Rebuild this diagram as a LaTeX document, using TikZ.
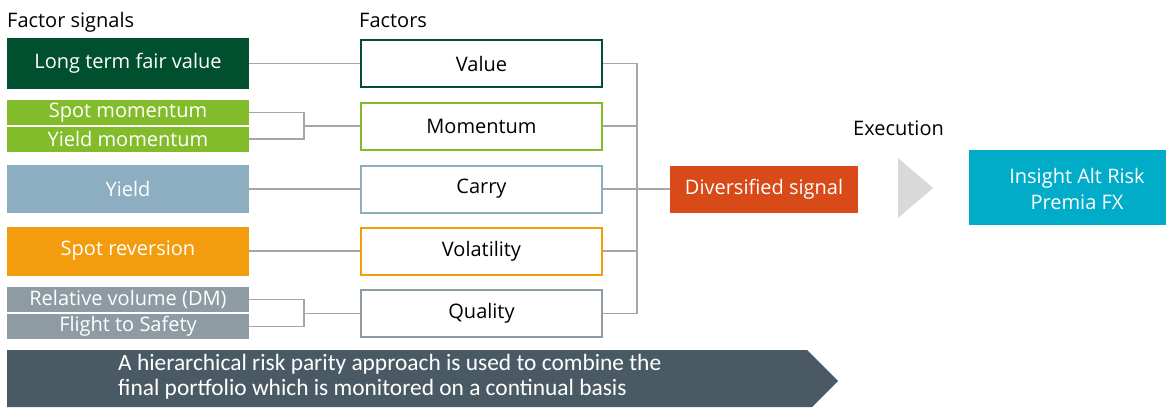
\documentclass[tikz,border=0pt]{standalone}
\usepackage{fontspec}
\setmainfont{Open Sans}
\newfontfamily\bannerfont{Carlito}
\usetikzlibrary{positioning}
\definecolor{dkgreen}{HTML}{005030}
\definecolor{ltgreen}{HTML}{82BC2A}
\definecolor{steel}{HTML}{8DAEC1}
\definecolor{amber}{HTML}{F39C0D}
\definecolor{slate}{HTML}{8E9BA2}
\definecolor{rust}{HTML}{D84A18}
\definecolor{teal}{HTML}{00ACC8}
\definecolor{banner}{HTML}{4A5A65}
\definecolor{wire}{HTML}{A6A6A6}
\definecolor{chevron}{HTML}{D9D9D9}
\tikzset{
  body/.style={font=\fontsize{20}{24}\selectfont},
  sigbox/.style={rectangle, inner sep=0pt, text=white, body, minimum width=242pt},
  facbox/.style={rectangle, draw, line width=2pt, fill=white, inner sep=0pt, minimum width=241pt, minimum height=47pt, text=black, body},
  heading/.style={anchor=base west, inner sep=0pt, body},
  link/.style={draw=wire, line width=1.3pt},
}
\begin{document}
\begin{tikzpicture}[x=1pt, y=-1pt]
\useasboundingbox (0,0) rectangle (1166,407);

% headings
\node[heading] (hsig) at (7,27) {Factor signals};
\node[heading] (hfac) at (359,27) {Factors};
\node[heading] (hexe) at (853,135) {Execution};

% factor signals
\node[sigbox, fill=dkgreen, minimum height=51pt] (ltfv) at (128,63.5) {Long term fair value};
\node[sigbox, fill=ltgreen, minimum height=25pt] (spm) at (128,112.5) {Spot momentum};
\node[sigbox, fill=ltgreen, minimum height=25pt] (ylm) at (128,139) {Yield momentum};
\node[sigbox, fill=steel, minimum height=48pt] (yld) at (128,189) {Yield};
\node[sigbox, fill=amber, minimum height=49pt] (spr) at (128,251) {Spot reversion};
\node[sigbox, fill=slate, minimum height=25pt] (rvol) at (128,299.5) {Relative volume (DM)};
\node[sigbox, fill=slate, minimum height=25pt] (fts) at (128,326.5) {Flight to Safety};

% factors
\node[facbox, draw=dkgreen] (val) at (481.5,63.5) {Value};
\node[facbox, draw=ltgreen] (mom) at (481.5,126) {Momentum};
\node[facbox, draw=steel] (car) at (481.5,189) {Carry};
\node[facbox, draw=amber] (vol) at (481.5,251) {Volatility};
\node[facbox, draw=slate] (qual) at (481.5,313.5) {Quality};

% aggregated signal and product
\node[rectangle, fill=rust, inner sep=0pt, minimum width=188pt, minimum height=47pt,
      text=white, body] (div) at (764,189) {Diversified signal};
\node[rectangle, fill=teal, inner sep=0pt, minimum width=197pt, minimum height=75pt] (alt) at (1067.5,187.5) {};
\node[text=white, align=center, inner sep=0pt, font=\fontsize{20}{26}\selectfont] (altlabel) at (1077,189) {Insight Alt Risk\\Premia FX};
\fill[chevron] (898,158) -- (933,188) -- (898,218) -- cycle;

% signal to factor links
\draw[link] (ltfv.east) -- (val.west);
\draw[link] (yld.east) -- (car.west);
\draw[link] (spr.east) -- (vol.west);
\coordinate (mj) at (304,126);
\draw[link] (spm.east) -| (mj) |- (ylm.east);
\draw[link] (mj) -- (mom.west);
\coordinate (qj) at (304,313.5);
\draw[link] (rvol.east) -| (qj) |- (fts.east);
\draw[link] (qj) -- (qual.west);

% factor to diversified signal links
\coordinate (fj) at (637,189);
\draw[link] (val.east) -| (fj) |- (qual.east);
\draw[link] (mom.east) -- (mom.east -| fj);
\draw[link] (vol.east) -- (vol.east -| fj);
\draw[link] (car.east) -- (div.west);

% banner arrow
\fill[banner] (7,350) -- (807,350) -- (838,381) -- (812,407) -- (7,407) -- cycle;
\node[anchor=north west, inner sep=0pt, text=white, align=left,
      font=\bannerfont\fontsize{23.4}{25}\selectfont] (note) at (118,354)
  {A hierarchical risk parity approach is used to combine the\\final portfolio which is monitored on a continual basis};
\end{tikzpicture}
\end{document}
